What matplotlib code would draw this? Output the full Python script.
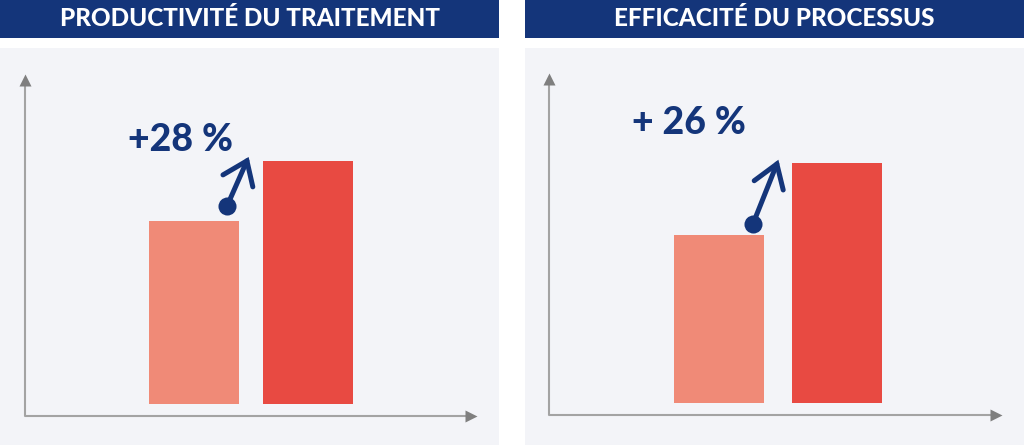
import matplotlib.pyplot as plt
from matplotlib.patches import Rectangle

# data (axis units 0-100)
titles = ["PRODUCTIVITÉ DU TRAITEMENT", "EFFICACITÉ DU PROCESSUS"]
gains = ["+28 %", "+ 26 %"]
before = [57.0, 52.6]
after = [74.6, 73.7]
baseline = 3.5
bar_pos = [[3.74, 6.26], [3.75, 6.36]]

NAVY = "#14357a"
BG = "#f3f4f8"
LIGHT = "#f08a77"
RED = "#e84a42"

W, H = 1024, 445
fig = plt.figure(figsize=(W / 100, H / 100), dpi=100)
fig.patch.set_facecolor("white")

# panel geometry in pixels: (left, right, axis_x0, axis_x1, axis_y_bottom, axis_y_top)
panels = [(0, 499, 25, 477, 416, 74), (525, 1024, 549, 1002, 415, 73)]
# arrow icon (dot, tip, head1, head2) in data units
icons = [
    [(4.47, 61.4), (4.91, 74.6), (4.38, 70.5), (5.04, 67.0)],
    [(4.50, 55.8), (5.03, 73.4), (4.53, 68.5), (5.17, 65.8)],
]
label_pos = [(2.28, 80.7), (1.83, 85.4)]

for i, (px0, px1, ax0, ax1, ayb, ayt) in enumerate(panels):
    # header bar
    fig.add_artist(Rectangle((px0 / W, 1 - 38 / H), (px1 - px0) / W, 38 / H,
                             transform=fig.transFigure, color=NAVY, lw=0, zorder=-2))
    fig.text((px0 + px1) / 2 / W, 1 - 19 / H, titles[i], color="white",
             fontsize=17.5, fontweight="black", family="Lato",
             ha="center", va="center")
    # panel background
    fig.add_artist(Rectangle((px0 / W, 0), (px1 - px0) / W, (H - 48) / H,
                             transform=fig.transFigure, color=BG, lw=0, zorder=-2))

    ax = fig.add_axes([ax0 / W, (H - ayb) / H, (ax1 - ax0) / W, (ayb - ayt) / H])
    ax.set_xlim(0, 10)
    ax.set_ylim(0, 100)
    ax.axis("off")

    ax.bar(bar_pos[i], [before[i] - baseline, after[i] - baseline], bottom=baseline,
           width=2.0, color=[LIGHT, RED], zorder=2)

    # axes with arrow heads (tip sits at the axes end)
    hx = 6 / (ax1 - ax0)
    hy = 6 / (ayb - ayt)
    ax.plot([0, 0, 1 - hx], [1 - hy, 0, 0], color="#a3a3a3", lw=1.5,
            transform=ax.transAxes, clip_on=False, zorder=1)
    ax.plot([0], [1 - hy], marker="^", ms=8.5, color="#7f7f7f", mec="none",
            transform=ax.transAxes, clip_on=False)
    ax.plot([1 - hx], [0], marker=">", ms=8.5, color="#7f7f7f", mec="none",
            transform=ax.transAxes, clip_on=False)

    # up arrow icon
    dot, tip, h1, h2 = icons[i]
    ax.plot([dot[0], tip[0]], [dot[1], tip[1]], color=NAVY, lw=3.6,
            solid_capstyle="round", zorder=3)
    ax.plot([h1[0], tip[0], h2[0]], [h1[1], tip[1], h2[1]], color=NAVY, lw=3.6,
            solid_capstyle="round", solid_joinstyle="miter", zorder=3)
    ax.plot([dot[0]], [dot[1]], marker="o", ms=13, color=NAVY, mec="none", zorder=3)

    ax.text(label_pos[i][0], label_pos[i][1], gains[i], color=NAVY,
            fontsize=27, fontweight="black", family="Lato", ha="left", va="center")

fig.savefig("out.png", dpi=100, facecolor="white")
